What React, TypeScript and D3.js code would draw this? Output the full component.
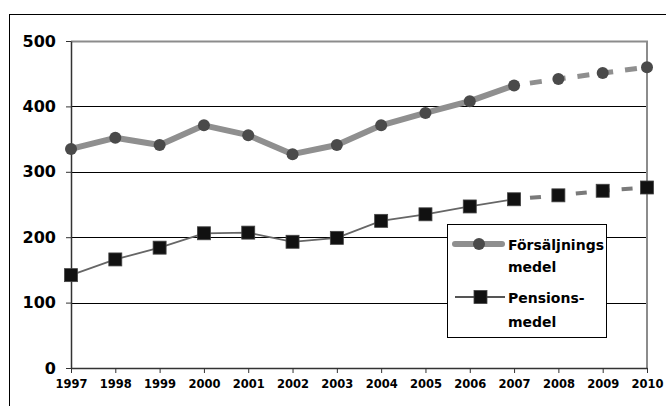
import { useEffect, useRef } from 'react';
import * as d3 from 'd3';

const years = [1997, 1998, 1999, 2000, 2001, 2002, 2003, 2004, 2005, 2006, 2007, 2008, 2009, 2010];
const forsaljning = [335, 352, 341, 371, 356, 327, 341, 371, 390, 408, 432, 442, 451, 460];
const pension = [142, 166, 184, 206, 207, 193, 199, 225, 235, 247, 258, 264, 271, 276];
const yTicks = [0, 100, 200, 300, 400, 500];
// years from this index onward are forecast (dashed)
const forecastFrom = 10;

const FONT = "'DejaVu Sans', sans-serif";

export default function App() {
  const svgRef = useRef<SVGSVGElement>(null);

  useEffect(() => {
    if (!svgRef.current) return;
    const width = 666;
    const height = 406;
    const margin = { top: 41, right: 19, bottom: 38, left: 71 };
    const innerWidth = width - margin.left - margin.right;
    const innerHeight = height - margin.top - margin.bottom;

    const svg = d3.select(svgRef.current);
    svg.selectAll('*').remove();
    svg.attr('width', width).attr('height', height).attr('viewBox', `0 0 ${width} ${height}`);

    svg.append('rect').attr('width', width).attr('height', height).attr('fill', '#fff');

    // outer chart frame
    svg.append('rect')
      .attr('x', 9.5).attr('y', 14.5)
      .attr('width', width).attr('height', height)
      .attr('fill', 'none').attr('stroke', '#000').attr('stroke-width', 1);

    const g = svg.append('g').attr('transform', `translate(${margin.left},${margin.top})`);

    const x = d3.scaleLinear().domain([1997, 2010]).range([0, innerWidth]);
    const y = d3.scaleLinear().domain([0, 500]).range([innerHeight, 0]);

    // gridlines
    g.selectAll('.grid')
      .data(yTicks.filter((t) => t > 0 && t < 500))
      .join('line')
      .attr('x1', 0).attr('x2', innerWidth)
      .attr('y1', (d) => Math.round(y(d)) + 0.5).attr('y2', (d) => Math.round(y(d)) + 0.5)
      .attr('stroke', '#000').attr('stroke-width', 1);

    // plot border top/right (gray)
    g.append('path')
      .attr('d', `M0,${y(500) + 0.5}H${innerWidth}V${innerHeight}`)
      .attr('fill', 'none').attr('stroke', '#8c8c8c').attr('stroke-width', 2);

    // y axis
    const yAxis = g.append('g').call(
      d3.axisLeft(y).tickValues(yTicks).tickSize(5).tickSizeOuter(0).tickPadding(10),
    );
    yAxis.select('.domain').attr('stroke', '#333').attr('stroke-width', 1.5);
    yAxis.selectAll('.tick line').attr('stroke', '#333');
    yAxis.selectAll('text')
      .attr('font-family', FONT).attr('font-weight', 'bold')
      .attr('font-size', 16).attr('fill', '#000');

    // x axis
    const xAxis = g.append('g')
      .attr('transform', `translate(0,${innerHeight})`)
      .call(
        d3.axisBottom(x).tickValues(years).tickFormat((d) => String(d)).tickSize(5).tickSizeOuter(0).tickPadding(7),
      );
    xAxis.select('.domain').attr('stroke', '#333').attr('stroke-width', 1.5);
    xAxis.selectAll('.tick line').attr('stroke', '#333');
    xAxis.selectAll('text')
      .attr('font-family', FONT).attr('font-weight', 'bold')
      .attr('font-size', 11.5).attr('fill', '#000');

    const lineDefined = d3.line<number | null>()
      .defined((d) => d !== null)
      .x((_, i) => x(years[i]))
      .y((d) => y(d as number));

    const solidPart = (arr: number[]) => arr.map((v, i) => (i <= forecastFrom ? v : null));
    const dashedPart = (arr: number[]) => arr.map((v, i) => (i >= forecastFrom ? v : null));

    // Försäljningsmedel
    g.append('path')
      .datum(solidPart(forsaljning))
      .attr('d', lineDefined)
      .attr('fill', 'none').attr('stroke', '#8f8f8f').attr('stroke-width', 6)
      .attr('stroke-linejoin', 'round');
    g.append('path')
      .datum(dashedPart(forsaljning))
      .attr('d', lineDefined)
      .attr('fill', 'none').attr('stroke', '#8f8f8f').attr('stroke-width', 5)
      .attr('stroke-dasharray', '12,12').attr('stroke-dashoffset', 8);
    g.selectAll('.dot-f')
      .data(forsaljning)
      .join('circle')
      .attr('cx', (_, i) => x(years[i]))
      .attr('cy', (d) => y(d))
      .attr('r', 6)
      .attr('fill', '#4a4a4a');

    // Pensionsmedel
    g.append('path')
      .datum(solidPart(pension))
      .attr('d', lineDefined)
      .attr('fill', 'none').attr('stroke', '#666').attr('stroke-width', 1.8);
    g.append('path')
      .datum(dashedPart(pension))
      .attr('d', lineDefined)
      .attr('fill', 'none').attr('stroke', '#7a7a7a').attr('stroke-width', 4)
      .attr('stroke-dasharray', '11,12').attr('stroke-dashoffset', 7);
    g.selectAll('.dot-p')
      .data(pension)
      .join('rect')
      .attr('x', (_, i) => x(years[i]) - 6.5)
      .attr('y', (d) => y(d) - 6.5)
      .attr('width', 13).attr('height', 13)
      .attr('fill', '#111').attr('stroke', '#444').attr('stroke-width', 0.8);

    // legend
    const lg = svg.append('g').attr('transform', 'translate(447,224)');
    lg.append('rect')
      .attr('x', 0.5).attr('y', 0.5).attr('width', 159).attr('height', 113)
      .attr('fill', '#fff').attr('stroke', '#000').attr('stroke-width', 1);
    lg.append('line')
      .attr('x1', 8).attr('x2', 55).attr('y1', 20).attr('y2', 20)
      .attr('stroke', '#8f8f8f').attr('stroke-width', 6).attr('stroke-linecap', 'round');
    lg.append('circle').attr('cx', 32).attr('cy', 20).attr('r', 6).attr('fill', '#4a4a4a');
    lg.append('line')
      .attr('x1', 8).attr('x2', 58).attr('y1', 73).attr('y2', 73)
      .attr('stroke', '#555').attr('stroke-width', 1.8);
    lg.append('rect').attr('x', 27).attr('y', 66.5).attr('width', 13).attr('height', 13)
      .attr('fill', '#111').attr('stroke', '#444').attr('stroke-width', 0.8);
    const labels = [
      { text: 'Försäljnings', y: 26 },
      { text: 'medel', y: 48 },
      { text: 'Pensions-', y: 79 },
      { text: 'medel', y: 103 },
    ];
    lg.selectAll('.lbl')
      .data(labels)
      .join('text')
      .attr('x', 61)
      .attr('y', (d) => d.y)
      .attr('font-family', FONT).attr('font-weight', 'bold')
      .attr('font-size', 14).attr('fill', '#000')
      .text((d) => d.text);
  }, []);

  return (
    <div style={{ position: 'fixed', left: 0, top: 0 }}>
      <svg ref={svgRef} style={{ display: 'block' }} />
    </div>
  );
}
